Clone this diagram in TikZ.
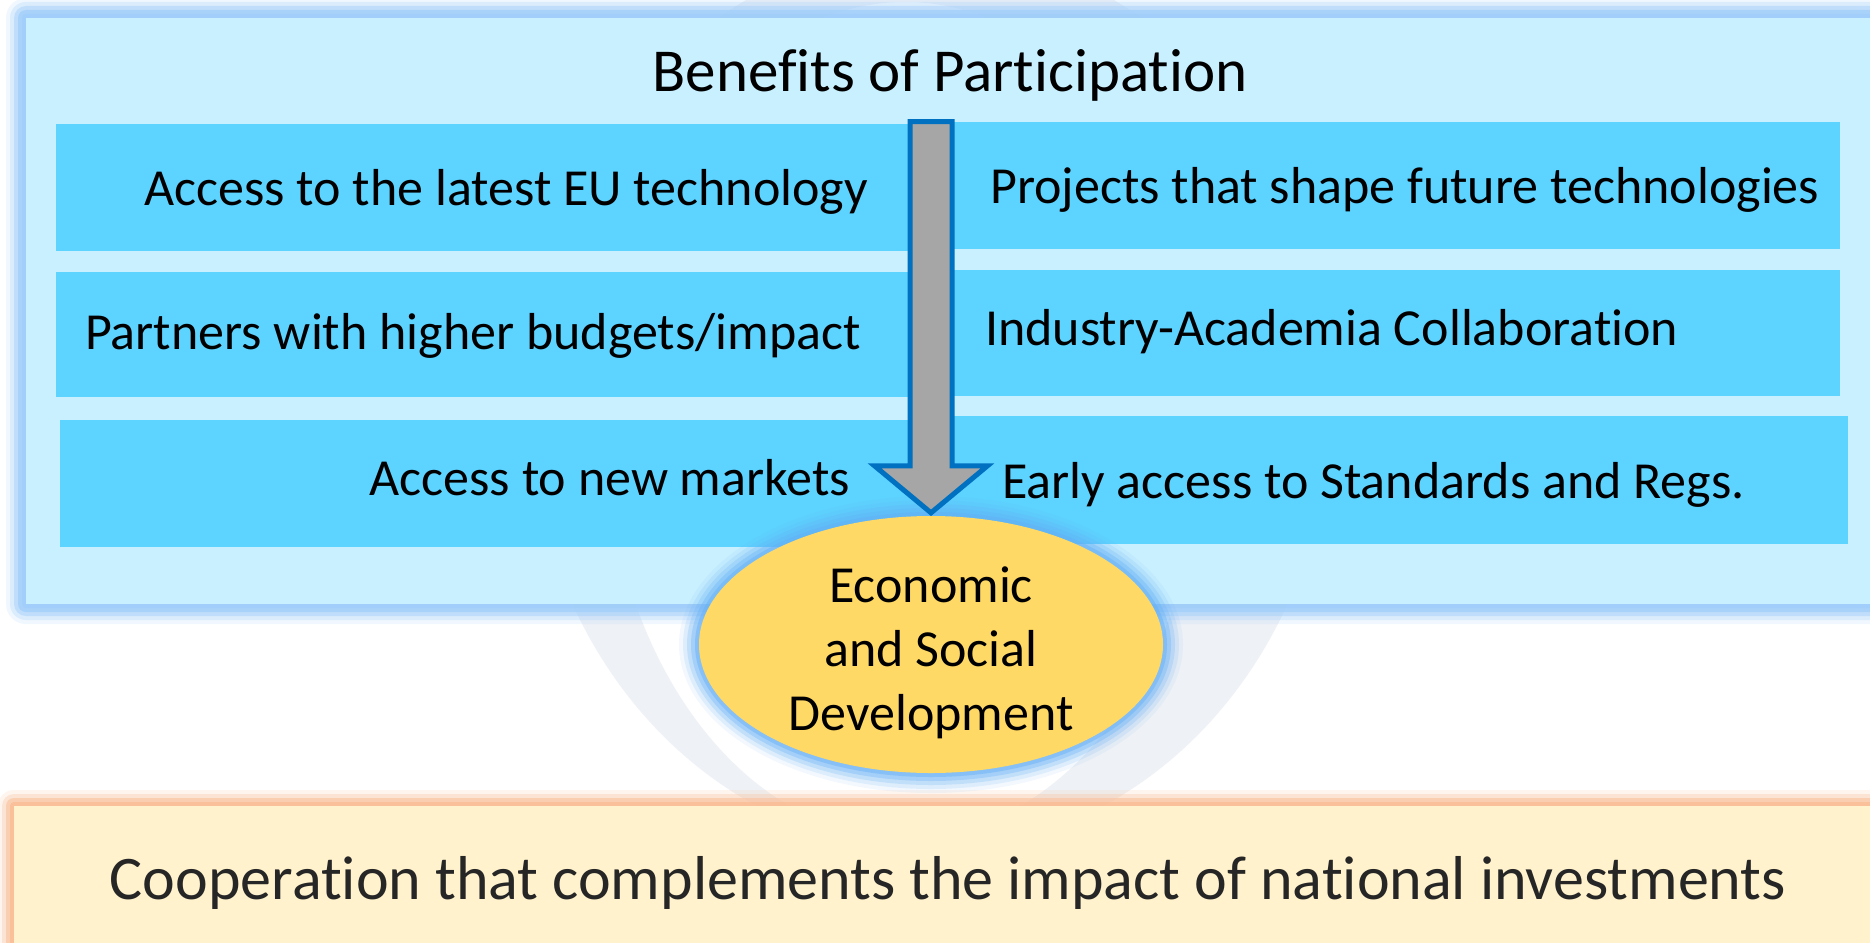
\documentclass[tikz,border=0pt]{standalone}
\usepackage{fontspec}
\setmainfont{Carlito}[Ligatures=NoCommon]
\usetikzlibrary{calc,shapes.geometric}
\definecolor{boxfill}{RGB}{201,240,255}
\definecolor{boxglow}{RGB}{160,206,250}
\definecolor{rowfill}{RGB}{93,211,255}
\definecolor{arrowfill}{RGB}{166,166,166}
\definecolor{arrowline}{RGB}{0,112,192}
\definecolor{ellfill}{RGB}{255,217,102}
\definecolor{ellglow}{RGB}{100,175,245}
\definecolor{bandfill}{RGB}{255,242,204}
\definecolor{bandglow}{RGB}{250,190,150}
\definecolor{bgring}{RGB}{238,241,246}
\definecolor{darktext}{RGB}{38,38,38}
\begin{document}
\begin{tikzpicture}[x=1pt,y=-1pt,
  rowbox/.style={rectangle, fill=rowfill, inner sep=0pt, outer sep=0pt, anchor=north west},
  rowtext/.style={font=\fontsize{52}{60}\selectfont, inner sep=0pt, text=black},
  titletext/.style={font=\fontsize{61}{70}\selectfont, inner sep=0pt, text=black},
  elltext/.style={font=\fontsize{52}{64}\selectfont, inner sep=0pt, align=center, text=black},
  bandtext/.style={font=\fontsize{62}{72}\selectfont, inner sep=0pt, text=darktext},
  blockarrow/.style={fill=arrowfill, draw=arrowline, line width=5pt, line join=miter}
]
\useasboundingbox (0,0) rectangle (1870,942);
\fill[white] (0,0) rectangle (1870,942);
% faint background ring
\fill[bgring, even odd rule] (930,400) ellipse [x radius=401pt, y radius=450pt]
                             (905,420) ellipse [x radius=300pt, y radius=418pt];
% outer box with glow
\foreach \d/\o in {20/0.15, 16/0.25, 12/0.45, 8/0.7, 4/0.85}{
  \fill[boxglow, opacity=\o, rounded corners=\d pt] ({26-\d},{18-\d}) rectangle ({1900+\d},{604+\d});
}
\fill[boxfill] (26,18) rectangle (1900,604);
\node[titletext, anchor=base] (title) at (950,91) {Benefits of Participation};
% rows
\node[rowbox, minimum width=877pt, minimum height=127pt] (r1l) at (56,124) {};
\node[rowbox, minimum width=907pt, minimum height=127pt] (r1r) at (933,122) {};
\node[rowbox, minimum width=877pt, minimum height=125pt] (r2l) at (56,272) {};
\node[rowbox, minimum width=907pt, minimum height=126pt] (r2r) at (933,270) {};
\node[rowbox, minimum width=873pt, minimum height=127pt] (r3l) at (60,420) {};
\node[rowbox, minimum width=915pt, minimum height=128pt] (r3r) at (933,416) {};
% bottom band with glow
\foreach \d/\o in {16/0.15, 12/0.3, 8/0.55, 4/0.85}{
  \fill[bandglow, opacity=\o, rounded corners=\d pt] ({14-\d},{806-\d}) rectangle ({1900+\d},{960+\d});
}
\fill[bandfill] (14,806) rectangle (1900,960);
\node[bandtext, anchor=base] (band) at (948,899) {Cooperation that complements the impact of national investments};
% ellipse with glow
\foreach \d/\o in {20/0.08, 16/0.14, 12/0.22, 8/0.32, 4/0.45}{
  \fill[ellglow, opacity=\o] (931,644.5) ellipse [x radius={(232+\d)*1pt}, y radius={(128.5+\d)*1pt}];
}
\node[ellipse, fill=ellfill, minimum width=464pt, minimum height=257pt, inner sep=0pt] (ell) at (931,644.5) {};
\node[elltext] (ellt) at (931,653) {Economic\\and Social\\Development};
% block arrow from the top of the panel to the ellipse
\coordinate (atop) at (931,121.5);
\coordinate (atip) at ($(ell.north)+(0,-3)$);
\draw[blockarrow] ($(atop)+(-21,0)$) -- ($(atop)+(21,0)$) -- ($(atip)+(21,-47)$) -- ($(atip)+(56.5,-47)$)
  -- (atip) -- ($(atip)+(-56.5,-47)$) -- ($(atip)+(-21,-47)$) -- cycle;
% row texts
\node[rowtext, anchor=base east] (t1l) at (868,205) {Access to the latest EU technology};
\node[rowtext, anchor=base west] (t1r) at (990,203) {Projects that shape future technologies};
\node[rowtext, anchor=base east] (t2l) at (861,349) {Partners with higher budgets/impact};
\node[rowtext, anchor=base west] (t2r) at (985,345) {Industry-Academia Collaboration};
\node[rowtext, anchor=base east] (t3l) at (850,495) {Access to new markets};
\node[rowtext, anchor=base west] (t3r) at (1002,498) {Early access to Standards and Regs.};
\end{tikzpicture}
\end{document}
